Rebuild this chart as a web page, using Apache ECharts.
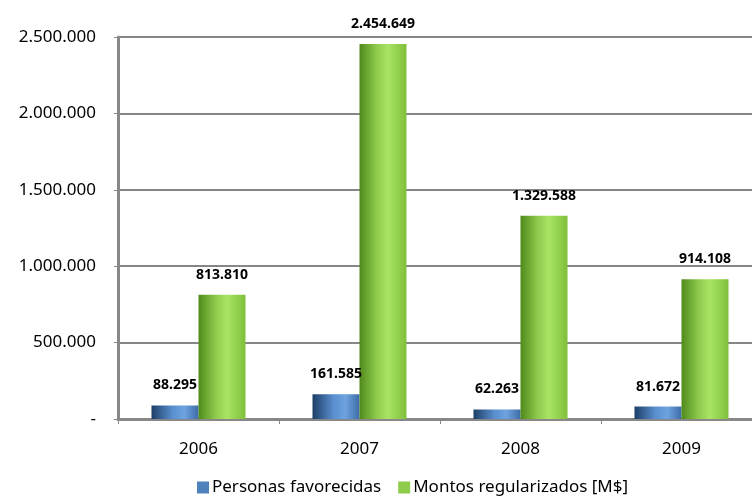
<!DOCTYPE html>
<html><head><meta charset="utf-8">
<script src="https://cdn.jsdelivr.net/npm/echarts@6/dist/echarts.min.js"></script>
<style>html,body{margin:0;padding:0;background:#fff;overflow:hidden;width:752px;height:496px}#c{width:762px;height:496px}</style>
</head><body><div id="c"></div>
<script>
const years = ['2006','2007','2008','2009'];
const personas = [88295, 161585, 62263, 81672];
const montos = [813810, 2454649, 1329588, 914108];
const seriesNames = ['Personas favorecidas', 'Montos regularizados [M$]'];

function fmt(v){
  if (v === 0) return '-';
  return String(Math.round(v)).replace(/\B(?=(\d{3})+(?!\d))/g, '.');
}
const FONT = '"Noto Sans", "Open Sans", sans-serif';
const blueGrad = new echarts.graphic.LinearGradient(0,0,1,0,[
  {offset:0,color:'#1d3f66'},{offset:0.45,color:'#5a8fd0'},{offset:0.7,color:'#6ea3e0'},{offset:1,color:'#3d6ca6'}]);
const greenGrad = new echarts.graphic.LinearGradient(0,0,1,0,[
  {offset:0,color:'#4f8a1c'},{offset:0.35,color:'#8cc84a'},{offset:0.6,color:'#a9e466'},{offset:1,color:'#7fbf3a'}]);

const chart = echarts.init(document.getElementById('c'));
chart.setOption({
  animation:false,
  grid:{left:118, top:37, right:0, bottom:77},
  legend:{
    top:474, left:192, itemGap:17, itemWidth:12, itemHeight:12,
    icon:'rect',
    textStyle:{fontFamily:FONT, fontSize:17, color:'#000', padding:[0,0,0,-2]},
    data:[{name:seriesNames[0], itemStyle:{color:'#4f81bd'}},{name:seriesNames[1], itemStyle:{color:'#8fcc4c'}}]
  },
  xAxis:{
    type:'category', data:years,
    axisLine:{lineStyle:{color:'#888', width:3}},
    axisTick:{show:true, length:5, lineStyle:{color:'#888', width:1}},
    axisLabel:{fontFamily:FONT, fontSize:17, color:'#000', margin:22}
  },
  yAxis:{
    type:'value', min:0, max:2500000, interval:500000,
    axisLine:{show:true, lineStyle:{color:'#888', width:3}},
    axisTick:{show:true, length:4, lineStyle:{color:'#888', width:1}},
    splitLine:{lineStyle:{color:'#868686', width:2}},
    axisLabel:{fontFamily:FONT, fontSize:17, color:'#000', margin:22, formatter:fmt}
  },
  series:[
    {name:seriesNames[0], type:'bar', data:personas, barWidth:47, barGap:'0%',
     itemStyle:{color:blueGrad},
     label:{show:true, position:'top', distance:13, fontFamily:FONT, fontWeight:'bold', fontSize:14, color:'#000', formatter:p=>fmt(p.value)}},
    {name:seriesNames[1], type:'bar', data:montos, barWidth:47, barGap:'0%',
     itemStyle:{color:greenGrad},
     label:{show:true, position:'top', distance:13, fontFamily:FONT, fontWeight:'bold', fontSize:14, color:'#000', formatter:p=>fmt(p.value)}}
  ]
});
</script></body></html>
